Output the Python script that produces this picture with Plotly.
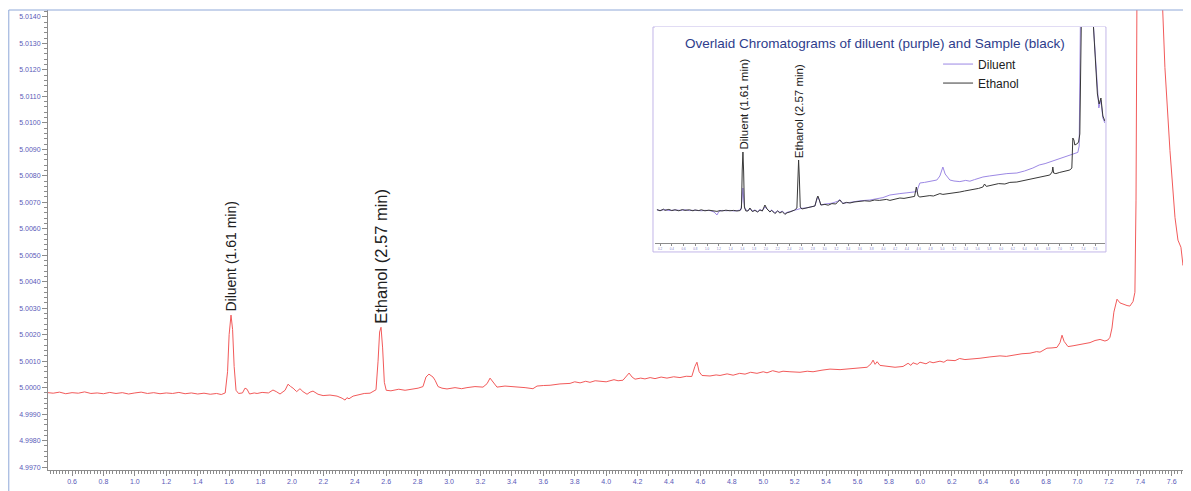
import plotly.graph_objects as go

# ---------------- main chromatogram (sample, red) ----------------
main_time = [0.447, 0.48, 0.52, 0.56, 0.60, 0.64, 0.68, 0.72, 0.76, 0.80, 0.84, 0.88, 0.92, 0.96,
             1.00, 1.04, 1.08, 1.12, 1.16, 1.20, 1.24, 1.28, 1.32, 1.36, 1.40, 1.44, 1.48, 1.52,
             1.55, 1.575, 1.590, 1.600, 1.612, 1.622, 1.632, 1.644, 1.660, 1.685, 1.701, 1.714,
             1.730, 1.760, 1.778, 1.810, 1.850, 1.879, 1.900, 1.924, 1.956, 1.975, 1.990, 2.007,
             2.030, 2.051, 2.070, 2.096, 2.115, 2.134, 2.166, 2.198, 2.242, 2.287, 2.319, 2.338,
             2.350, 2.363, 2.389, 2.420, 2.460, 2.497, 2.520, 2.535, 2.548, 2.558, 2.567, 2.577,
             2.588, 2.600, 2.630, 2.680, 2.720, 2.771, 2.803, 2.834, 2.853, 2.872, 2.885, 2.898,
             2.911, 2.930, 2.955, 2.987, 3.038, 3.080, 3.114, 3.165, 3.216, 3.242, 3.261, 3.280,
             3.305, 3.356, 3.420, 3.484, 3.534, 3.560, 3.600, 3.643, 3.706, 3.770, 3.800, 3.834,
             3.870, 3.897, 3.930, 3.961, 4.000, 4.050, 4.076, 4.107, 4.130, 4.146, 4.165, 4.184,
             4.220, 4.247, 4.280, 4.311, 4.350, 4.387, 4.430, 4.470, 4.510, 4.545, 4.565, 4.578,
             4.592, 4.610, 4.661, 4.700, 4.725, 4.770, 4.808, 4.850, 4.884, 4.920, 4.960, 5.000,
             5.024, 5.060, 5.100, 5.126, 5.170, 5.234, 5.280, 5.317, 5.374, 5.425, 5.489, 5.552,
             5.616, 5.661, 5.686, 5.699, 5.712, 5.725, 5.743, 5.794, 5.839, 5.890, 5.922, 5.940,
             5.953, 5.980, 5.998, 6.036, 6.060, 6.081, 6.125, 6.150, 6.170, 6.221, 6.250, 6.284,
             6.335, 6.380, 6.443, 6.507, 6.547, 6.590, 6.647, 6.698, 6.740, 6.762, 6.806, 6.838,
             6.870, 6.889, 6.902, 6.915, 6.940, 6.972, 7.016, 7.048, 7.080, 7.112, 7.144, 7.175,
             7.194, 7.207, 7.220, 7.232, 7.252, 7.271, 7.290, 7.316, 7.334, 7.354, 7.366, 7.373,
             7.379, 7.449, 7.538, 7.557, 7.589, 7.621, 7.640, 7.659, 7.672, 7.685, 7.698, 7.723]
main_signal = [4.99981, 4.99979, 4.99983, 4.99977, 4.99981, 4.99979, 4.99984, 4.99978, 4.99980, 4.99977,
               4.99982, 4.99978, 4.99981, 4.99976, 4.99980, 4.99983, 4.99978, 4.99981, 4.99977, 4.99980,
               4.99978, 4.99982, 4.99977, 4.99980, 4.99976, 4.99979, 4.99975, 4.99978, 4.99974, 4.99980,
               5.00060, 5.00200, 5.00274, 5.00220, 5.00080, 4.99990, 4.99978, 4.99980, 4.99998, 4.99994,
               4.99976, 4.99980, 4.99978, 4.99982, 4.99980, 4.99991, 4.99985, 4.99976, 4.99990, 5.00013,
               5.00005, 4.99998, 4.99985, 4.99996, 4.99985, 4.99975, 4.99983, 4.99987, 4.99975, 4.99970,
               4.99972, 4.99968, 4.99960, 4.99953, 4.99962, 4.99958, 4.99968, 4.99972, 4.99978, 4.99979,
               4.99985, 4.99992, 5.00100, 5.00210, 5.00228, 5.00150, 5.00020, 4.99990, 4.99988, 4.99994,
               4.99990, 4.99995, 4.99998, 5.00004, 5.00040, 5.00051, 5.00045, 5.00040, 5.00028, 5.00004,
               4.99998, 4.99995, 5.00000, 4.99996, 5.00000, 5.00004, 5.00002, 5.00015, 5.00036, 5.00020,
               5.00002, 5.00006, 5.00004, 5.00000, 4.99996, 5.00006, 5.00008, 5.00009, 5.00014, 5.00016,
               5.00022, 5.00018, 5.00024, 5.00020, 5.00026, 5.00025, 5.00022, 5.00030, 5.00026, 5.00028,
               5.00046, 5.00055, 5.00040, 5.00032, 5.00036, 5.00033, 5.00038, 5.00034, 5.00040, 5.00036,
               5.00041, 5.00038, 5.00043, 5.00042, 5.00080, 5.00096, 5.00060, 5.00046, 5.00044, 5.00048,
               5.00046, 5.00052, 5.00047, 5.00054, 5.00051, 5.00058, 5.00054, 5.00060, 5.00056, 5.00064,
               5.00058, 5.00062, 5.00060, 5.00058, 5.00062, 5.00060, 5.00066, 5.00070, 5.00068, 5.00072,
               5.00074, 5.00077, 5.00090, 5.00104, 5.00088, 5.00098, 5.00084, 5.00080, 5.00077, 5.00080,
               5.00092, 5.00084, 5.00094, 5.00088, 5.00096, 5.00090, 5.00098, 5.00094, 5.00100, 5.00096,
               5.00104, 5.00102, 5.00110, 5.00106, 5.00108, 5.00111, 5.00116, 5.00120, 5.00118, 5.00123,
               5.00128, 5.00130, 5.00136, 5.00134, 5.00149, 5.00150, 5.00152, 5.00170, 5.00198, 5.00175,
               5.00155, 5.00158, 5.00164, 5.00168, 5.00170, 5.00178, 5.00182, 5.00176, 5.00180, 5.00190,
               5.00225, 5.00285, 5.00334, 5.00320, 5.00315, 5.00310, 5.00308, 5.00325, 5.00360, 5.00708,
               5.01500, 5.06000, 5.01500, 5.01209, 5.00896, 5.00643, 5.00557, 5.00530, 5.00462, 5.00490,
               5.00508, 5.00526]

# ---------------- inset: diluent (purple) ----------------
dil_time = [0.147, 0.20, 0.283, 0.35, 0.454, 0.55, 0.624, 0.70, 0.794, 0.90, 0.964, 1.05, 1.12, 1.168,
            1.20, 1.253, 1.33, 1.389, 1.46, 1.508, 1.576, 1.593, 1.610, 1.627, 1.644, 1.695, 1.729,
            1.78, 1.814, 1.86, 1.899, 1.94, 1.984, 2.02, 2.069, 2.10, 2.154, 2.20, 2.239, 2.28, 2.324,
            2.36, 2.409, 2.45, 2.50, 2.545, 2.60, 2.681, 2.749, 2.834, 2.870, 2.885, 2.910, 2.936,
            3.005, 3.124, 3.226, 3.260, 3.290, 3.311, 3.430, 3.600, 3.770, 3.900, 3.991, 4.110, 4.200,
            4.280, 4.400, 4.500, 4.569, 4.600, 4.620, 4.700, 4.790, 4.909, 4.960, 5.011, 5.050, 5.130,
            5.200, 5.300, 5.400, 5.471, 5.550, 5.692, 5.800, 5.896, 6.000, 6.100, 6.270, 6.400, 6.542,
            6.650, 6.750, 6.831, 6.950, 7.050, 7.150, 7.250, 7.307, 7.330, 7.341, 7.350, 7.420, 7.540,
            7.562, 7.610, 7.647, 7.664, 7.699, 7.733, 7.767]
dil_signal = [4.99980, 4.99978, 4.99982, 4.99977, 4.99980, 4.99978, 4.99981, 4.99977, 4.99979, 4.99976,
              4.99978, 4.99977, 4.99970, 4.99955, 4.99972, 4.99978, 4.99976, 4.99978, 4.99975, 4.99978,
              4.99980, 5.00030, 5.00090, 5.00020, 4.99985, 4.99975, 4.99985, 4.99975, 4.99980, 4.99972,
              4.99982, 4.99976, 4.99995, 4.99985, 4.99972, 4.99980, 4.99966, 4.99976, 4.99968, 4.99975,
              4.99962, 4.99968, 4.99972, 4.99978, 4.99982, 4.99985, 4.99988, 4.99990, 4.99993, 5.00000,
              5.00035, 5.00045, 5.00028, 5.00005, 5.00010, 5.00014, 5.00024, 5.00032, 5.00020, 5.00014,
              5.00018, 5.00026, 5.00030, 5.00036, 5.00042, 5.00055, 5.00060, 5.00062, 5.00066, 5.00068,
              5.00072, 5.00100, 5.00115, 5.00118, 5.00122, 5.00130, 5.00150, 5.00195, 5.00160, 5.00130,
              5.00125, 5.00122, 5.00128, 5.00124, 5.00132, 5.00145, 5.00150, 5.00155, 5.00158, 5.00162,
              5.00165, 5.00175, 5.00190, 5.00205, 5.00212, 5.00220, 5.00232, 5.00242, 5.00252, 5.00260,
              5.00268, 5.00300, 5.00600, 5.01000, 5.03000, 5.01000, 5.00950, 5.00730, 5.00530, 5.00490,
              5.00530, 5.00440, 5.00415]

# ---------------- inset: sample / ethanol (black) ----------------
eth_time = [0.147, 0.20, 0.26, 0.283, 0.35, 0.40, 0.454, 0.52, 0.58, 0.624, 0.70, 0.76, 0.794, 0.86,
            0.90, 0.964, 1.03, 1.083, 1.13, 1.168, 1.22, 1.253, 1.32, 1.389, 1.45, 1.508, 1.559, 1.585,
            1.598, 1.610, 1.622, 1.635, 1.660, 1.695, 1.729, 1.77, 1.814, 1.86, 1.899, 1.94, 1.984,
            2.02, 2.069, 2.10, 2.154, 2.20, 2.239, 2.28, 2.324, 2.36, 2.409, 2.45, 2.490, 2.528, 2.545,
            2.557, 2.570, 2.585, 2.613, 2.681, 2.749, 2.834, 2.870, 2.885, 2.910, 2.936, 3.005, 3.060,
            3.124, 3.190, 3.226, 3.260, 3.290, 3.311, 3.370, 3.430, 3.500, 3.600, 3.680, 3.770, 3.850,
            3.930, 3.991, 4.050, 4.110, 4.20, 4.28, 4.35, 4.45, 4.530, 4.560, 4.590, 4.620, 4.700,
            4.790, 4.850, 4.909, 4.960, 5.011, 5.080, 5.130, 5.200, 5.300, 5.380, 5.471, 5.550, 5.620,
            5.692, 5.720, 5.750, 5.830, 5.896, 5.960, 6.066, 6.150, 6.270, 6.350, 6.450, 6.542, 6.620,
            6.700, 6.780, 6.831, 6.870, 6.882, 6.895, 6.933, 7.000, 7.050, 7.120, 7.171, 7.205, 7.222,
            7.240, 7.256, 7.290, 7.320, 7.341, 7.360, 7.400, 7.460, 7.540, 7.562, 7.600, 7.640, 7.670,
            7.700, 7.733, 7.767]
eth_signal = [4.99982, 4.99976, 4.99984, 4.99978, 4.99983, 4.99977, 4.99981, 4.99976, 4.99982, 4.99978,
              4.99981, 4.99976, 4.99980, 4.99977, 4.99981, 4.99976, 4.99979, 4.99976, 4.99975, 4.99973,
              4.99977, 4.99975, 4.99979, 4.99976, 4.99978, 4.99975, 4.99977, 4.99990, 5.00180, 5.00270,
              5.00170, 4.99995, 4.99975, 4.99975, 4.99990, 4.99972, 4.99978, 4.99970, 4.99980, 4.99975,
              5.00005, 4.99985, 4.99970, 4.99978, 4.99962, 4.99975, 4.99965, 4.99972, 4.99958, 4.99966,
              4.99970, 4.99976, 4.99980, 4.99990, 5.00150, 5.00230, 5.00140, 4.99995, 4.99985, 4.99990,
              4.99992, 5.00000, 5.00040, 5.00050, 5.00030, 5.00005, 5.00008, 5.00004, 5.00012, 5.00010,
              5.00022, 5.00030, 5.00018, 5.00012, 5.00018, 5.00015, 5.00020, 5.00022, 5.00026, 5.00024,
              5.00030, 5.00028, 5.00030, 5.00033, 5.00028, 5.00036, 5.00040, 5.00038, 5.00045, 5.00048,
              5.00095, 5.00050, 5.00045, 5.00050, 5.00052, 5.00050, 5.00058, 5.00062, 5.00058, 5.00060,
              5.00065, 5.00064, 5.00070, 5.00075, 5.00080, 5.00082, 5.00088, 5.00095, 5.00110, 5.00098,
              5.00102, 5.00108, 5.00112, 5.00110, 5.00118, 5.00120, 5.00125, 5.00132, 5.00138, 5.00142,
              5.00148, 5.00152, 5.00155, 5.00170, 5.00195, 5.00165, 5.00162, 5.00168, 5.00172, 5.00178,
              5.00180, 5.00190, 5.00340, 5.00330, 5.00305, 5.00310, 5.00320, 5.00360, 5.00900, 5.01500,
              5.03000, 5.01500, 5.00950, 5.00760, 5.00560, 5.00510, 5.00540, 5.00450, 5.00425]

peak_labels = ["Diluent (1.61 min)", "Ethanol (2.57 min)"]
peak_times = [1.612, 2.567]
main_peak_heights = [5.00274, 5.00228]
inset_peak_heights = [5.00270, 5.00230]
inset_title = "Overlaid Chromatograms of diluent (purple) and Sample (black)"

FONT = "Liberation Sans, Arial, sans-serif"
TICKCOL = "#5a5ab8"
AXCOL = "#8c8c8c"

fig = go.Figure()
fig.add_trace(go.Scatter(x=main_time, y=main_signal, mode="lines",
                         line=dict(color="#f25a5a", width=1), showlegend=False,
                         xaxis="x", yaxis="y"))
fig.add_trace(go.Scatter(x=dil_time, y=dil_signal, mode="lines", name="Diluent",
                         line=dict(color="#9c88e4", width=1), xaxis="x2", yaxis="y2"))
fig.add_trace(go.Scatter(x=eth_time, y=eth_signal, mode="lines", name="Ethanol",
                         line=dict(color="#383838", width=1), xaxis="x2", yaxis="y2"))

annotations = []
main_sizes = [14, 16.5]
for lab, t, h, s in zip(peak_labels, peak_times, main_peak_heights, main_sizes):
    annotations.append(dict(x=t, y=h, xref="x", yref="y", text=lab, textangle=-90,
                            showarrow=False, xanchor="center", yanchor="bottom", yshift=1,
                            font=dict(family=FONT, size=s, color="#202020")))
for lab, t, h in zip(peak_labels, peak_times, inset_peak_heights):
    annotations.append(dict(x=t, y=h, xref="x2", yref="y2", text=lab, textangle=-90,
                            showarrow=False, xanchor="center", yanchor="bottom", yshift=0,
                            font=dict(family=FONT, size=11.5, color="#202020")))
annotations.append(dict(x=0.7235, y=0.928, xref="paper", yref="paper", text=inset_title,
                        showarrow=False, xanchor="center", yanchor="middle",
                        font=dict(family=FONT, size=13.5, color="#2e3d8c")))

shapes = [
    # outer frame (left and top)
    dict(type="line", xref="paper", yref="paper", x0=-0.0343, x1=-0.0343, y0=-0.06, y1=1.0,
         line=dict(color="#8fa8d8", width=1)),
    dict(type="line", xref="paper", yref="paper", x0=-0.0343, x1=1.0, y0=1.0, y1=1.0,
         line=dict(color="#8fa8d8", width=1)),
    # inset box
    dict(type="rect", xref="paper", yref="paper", x0=0.5293, x1=0.9256, y0=0.474, y1=0.963,
         line=dict(color="#c2b6e8", width=1), fillcolor="white", layer="below"),
]

# the page body adds an 8 px offset, so the figure is 8 px smaller and margins 8 px tighter
fig.update_layout(
    width=1183, height=483,
    margin=dict(l=40, r=0, t=2, b=21, autoexpand=False),
    paper_bgcolor="white", plot_bgcolor="white",
    font=dict(family=FONT),
    xaxis=dict(range=[0.447, 7.723], domain=[0, 1], dtick=0.2, tick0=0, tickformat=".1f",
               automargin=False,
               showgrid=False, zeroline=False, showline=True, linecolor=AXCOL, linewidth=1,
               ticks="outside", ticklen=5, tickcolor=AXCOL, tickwidth=1,
               tickfont=dict(size=7, color=TICKCOL, family=FONT),
               minor=dict(dtick=0.02, ticks="outside", ticklen=3, tickcolor=AXCOL, showgrid=False)),
    yaxis=dict(range=[4.99689, 5.01426], domain=[0, 1], dtick=0.001, tick0=5.0, tickformat=".4f",
               automargin=False,
               showgrid=False, zeroline=False, showline=True, linecolor=AXCOL, linewidth=1,
               ticks="outside", ticklen=5, tickcolor=AXCOL, tickwidth=1,
               tickfont=dict(size=7, color=TICKCOL, family=FONT),
               minor=dict(dtick=0.0002, ticks="outside", ticklen=3, tickcolor=AXCOL, showgrid=False)),
    xaxis2=dict(range=[0.113, 7.77], domain=[0.531, 0.9248], anchor="y2", dtick=0.2, tick0=0,
                automargin=False,
                tickformat=".1f", showgrid=False, zeroline=False, showline=True, linecolor=AXCOL,
                linewidth=1, ticks="outside", ticklen=2, tickcolor=AXCOL,
                tickfont=dict(size=3, color="#8080c8", family=FONT)),
    yaxis2=dict(range=[4.99815, 5.00895], domain=[0.4935, 0.963], anchor="x2", visible=False,
                automargin=False),
    legend=dict(x=0.7787, y=0.914, xanchor="left", yanchor="top", bgcolor="rgba(0,0,0,0)",
                font=dict(family=FONT, size=12, color="#202020"), tracegroupgap=0,
                itemwidth=30),
    annotations=annotations,
    shapes=shapes,
)

fig.write_html("out.html")
